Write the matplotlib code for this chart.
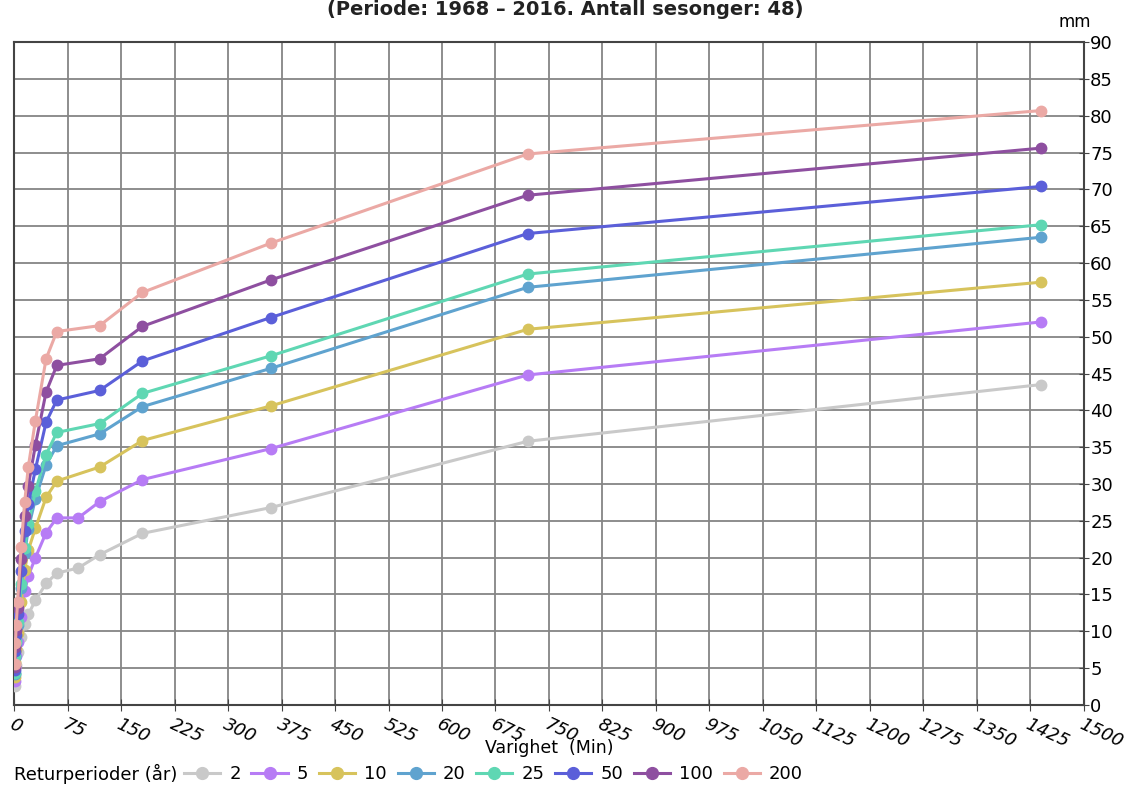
import matplotlib
matplotlib.use("Agg")
import matplotlib.pyplot as plt
from matplotlib.lines import Line2D
from matplotlib.legend_handler import HandlerLine2D
import numpy as np

plt.rcParams['font.family'] = ['DejaVu Sans']

# varighet i minutter
durations = [1, 2, 3, 5, 10, 15, 20, 30, 45, 60, 90, 120, 180, 360, 720, 1440]
periods = ['2', '5', '10', '20', '25', '50', '100', '200']
colors = ['#c9c9c9', '#b77cf5', '#d7c35c', '#5fa3cf', '#5fd7b3', '#5b5fd9', '#8e4fa0', '#eba9a5']

# nedbør (mm) per returperiode; nan = ingen markør i referansen
p2 = [2.6, 4.2, 5.4, 7.2, 9.2, 11.0, 12.3, 14.2, 16.5, 17.9, 18.6, 20.4, 23.3, 26.8, 35.8, 43.5]
p5 = [3.3, 5.1, 6.6, 8.5, 12.0, 15.5, 17.5, 20.0, 23.4, 25.4, 25.4, 27.6, 30.6, 34.8, 44.8, 52.0]
p10 = [3.8, 5.9, 7.6, 9.8, 14.0, 18.3, 21.0, 24.0, 28.2, 30.4, np.nan, 32.3, 35.9, 40.6, 51.0, 57.4]
p20 = [4.2, 6.5, 8.4, 10.9, 15.9, 20.7, 23.9, 28.0, 32.6, 35.2, np.nan, 36.8, 40.5, 45.7, 56.7, 63.5]
p25 = [4.3, 6.7, 8.7, 11.2, 16.4, 21.3, 24.6, 29.0, 34.0, 37.0, np.nan, 38.2, 42.3, 47.4, 58.5, 65.2]
p50 = [4.7, 7.3, 9.5, 12.3, 18.2, 23.6, 27.3, 32.0, 38.4, 41.4, np.nan, 42.7, 46.7, 52.6, 64.0, 70.4]
p100 = [5.1, 7.9, 10.2, 13.2, 19.8, 25.6, 29.7, 35.3, 42.5, 46.1, np.nan, 47.0, 51.4, 57.7, 69.2, 75.6]
p200 = [5.5, 8.4, 10.8, 14.0, 21.5, 27.6, 32.3, 38.6, 47.0, 50.7, np.nan, 51.5, 56.0, 62.7, 74.8, 80.7]
series = [p2, p5, p10, p20, p25, p50, p100, p200]

x_ticks = list(range(0, 1501, 75))
y_ticks = list(range(0, 91, 5))

fig = plt.figure(figsize=(11.39, 7.87), dpi=100)
ax = fig.add_axes([0.0123, 0.1042, 0.9394, 0.8424])

x = np.array(durations, dtype=float)
for vals, c in zip(series, colors):
    v = np.array(vals, dtype=float)
    m = ~np.isnan(v)
    ax.plot(x[m], v[m], color=c, lw=2.2, marker='o', ms=7.5, mec=c, mfc=c, zorder=3)

ax.set_xlim(0, 1500)
ax.set_ylim(0, 90)
ax.set_xticks(x_ticks)
ax.set_yticks(y_ticks)
ax.grid(True, color='#858585', lw=1.3)
ax.set_axisbelow(True)
for s in ax.spines.values():
    s.set_color('#444444')
    s.set_linewidth(1.5)
ax.yaxis.tick_right()
ax.tick_params(axis='y', direction='inout', length=7, labelsize=13, color='#444444', pad=1)
ax.tick_params(axis='x', direction='inout', length=8, color='#444444')
ax.set_xticklabels([str(t) for t in x_ticks], rotation=-25, ha='left', va='top',
                   rotation_mode='anchor', fontstyle='italic', fontsize=13)

fig.text(0.496, 1.0, '(Periode: 1968 \u2013 2016. Antall sesonger: 48)', ha='center', va='top',
         fontsize=14, fontweight='bold', color='#222222')
fig.text(1075 / 1139, 1 - 22 / 787, 'mm', ha='center', va='center', fontsize=12)
fig.text(549 / 1139, 1 - 748 / 787, 'Varighet  (Min)', ha='center', va='center', fontsize=12.5)


class LeftMarker(HandlerLine2D):
    def get_xdata(self, legend, xdescent, ydescent, width, height, fontsize):
        xdata = np.array([-xdescent, width - xdescent])
        return xdata, np.array([-xdescent])


fig.text(14 / 1139, 1 - 774 / 787, 'Returperioder (år)', ha='left', va='center', fontsize=13)
handles = [Line2D([], [], color=c, lw=2.2, marker='o', ms=8.5, mec=c, mfc=c) for c in colors]
fig.legend(handles, periods, loc='center left', bbox_to_anchor=(184 / 1139, 1 - 774 / 787),
           ncol=8, frameon=False, fontsize=13, handlelength=2.0, handletextpad=0.5,
           columnspacing=0.6, borderpad=0, borderaxespad=0,
           handler_map={Line2D: LeftMarker(numpoints=1)})

fig.savefig('out.png', dpi=100)
